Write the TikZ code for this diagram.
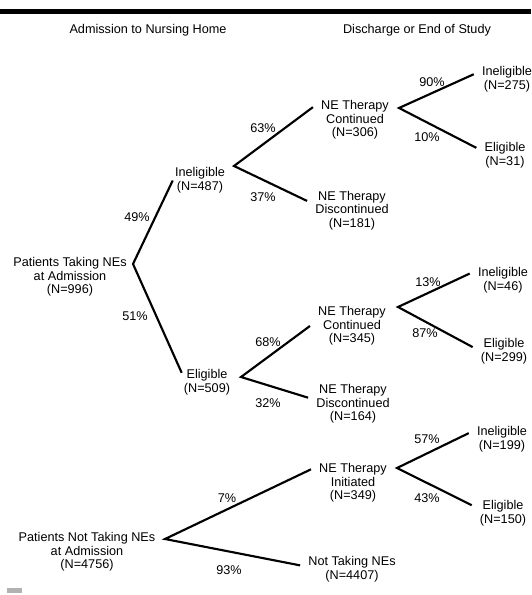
\documentclass[tikz,border=0pt]{standalone}
\usepackage{fontspec}
\setmainfont{Liberation Sans}
\usepackage{tikz}

\begin{document}
\begin{tikzpicture}[x=0.75pt, y=-0.75pt,
    every node/.style={font=\fontsize{9.5}{10.2}\selectfont, align=center},
    outcome/.style={inner xsep=6pt, inner ysep=2pt},
    stage/.style={inner xsep=1.5pt, inner ysep=2pt},
    branch/.style={line width=1.6pt, line join=miter}]
        \useasboundingbox (0,0) rectangle (531,595);

        % Rule and headings
        \fill (0,9) rectangle (531,14.5);
        \fill[gray!60] (7,588) rectangle (22,593);
        \node (hadm) at (148,30) {Admission to Nursing Home};
        \node (hdis) at (417,30) {Discharge or End of Study};

        % Patients taking NEs
        \node[stage] (r1) at (70,277) {Patients Taking NEs\\at Admission\\(N=996)};
        \node[stage] (ie1) at (200,180.5) {Ineligible\\(N=487)};
        \node[stage] (el1) at (207,382) {Eligible\\(N=509)};
        \node[outcome] (nc1) at (355,120) {NE Therapy\\Continued\\(N=306)};
        \node[outcome] (nd1) at (352,210.5) {NE Therapy\\Discontinued\\(N=181)};
        \node[outcome] (i2) at (507,79.5) {Ineligible\\(N=275)};
        \node[outcome] (e2) at (505,155) {Eligible\\(N=31)};
        \node[outcome] (nc2) at (352,326) {NE Therapy\\Continued\\(N=345)};
        \node[outcome] (nd2) at (353,404) {NE Therapy\\Discontinued\\(N=164)};
        \node[outcome] (i3) at (503,280) {Ineligible\\(N=46)};
        \node[outcome] (e3) at (504,351.5) {Eligible\\(N=299)};

        % Patients not taking NEs
        \node[stage] (r2) at (87,552) {Patients Not Taking NEs\\at Admission\\(N=4756)};
        \node[outcome] (ni) at (353,483) {NE Therapy\\Initiated\\(N=349)};
        \node[outcome] (nt) at (352,569) {Not Taking NEs\\(N=4407)};
        \node[outcome] (i4) at (502,439) {Ineligible\\(N=199)};
        \node[outcome] (e4) at (503,513) {Eligible\\(N=150)};

        % Forks
        \coordinate (f1) at (133,264);
        \coordinate (f2) at (234,166);
        \coordinate (f3) at (399,108);
        \coordinate (f4) at (241,377);
        \coordinate (f5) at (398,307);
        \coordinate (f6) at (165,539);
        \coordinate (f7) at (397,468);

        \draw[branch] (ie1.west) -- (f1) -- (el1.160);
        \draw[branch] (nc1.163) -- (f2) -- (nd1.168);
        \draw[branch] (i2.171) -- (f3) -- (e2.166);
        \draw[branch] (nc2.west) -- (f4) -- (nd2.172);
        \draw[branch] (i3.169) -- (f5) -- (e3.172);
        \draw[branch] (ni.162) -- (f6) -- (nt.176);
        \draw[branch] (i4.170) -- (f7) -- (e4.166);

        % Percentages
        \node (p49) at (137,217) {49\%};
        \node (p51) at (135,316) {51\%};
        \node (p63) at (263,128) {63\%};
        \node (p37) at (263,197) {37\%};
        \node (p90) at (432,82) {90\%};
        \node (p10) at (427,137) {10\%};
        \node (p68) at (268,342) {68\%};
        \node (p32) at (268,403) {32\%};
        \node (p13) at (428,282) {13\%};
        \node (p87) at (425,333) {87\%};
        \node (p57) at (427,439) {57\%};
        \node (p43) at (427,498) {43\%};
        \node (p7) at (227,498) {7\%};
        \node (p93) at (229,570) {93\%};
    \end{tikzpicture}
\end{document}
